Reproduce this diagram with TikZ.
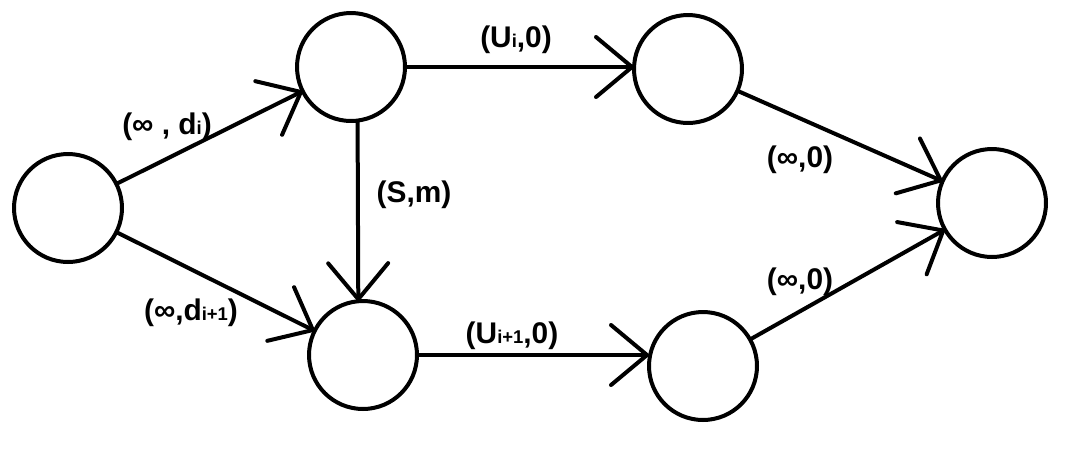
\documentclass[tikz,border=0pt]{standalone}
\usepackage{fontspec}
\setmainfont{Liberation Sans}
\usetikzlibrary{arrows.meta}
\newcommand{\lowidx}[1]{{\fontsize{10.5}{11}\selectfont #1}}
\tikzset{
  vtx/.style={draw,circle,line width=0.08cm,minimum size=2.16cm,inner sep=0pt,outer sep=0pt},
  flow/.style={line width=0.08cm,-{Straight Barb[length=0.72cm,width=1.2cm,round]}},
  lab/.style={font=\fontsize{17}{19}\selectfont\bfseries,inner sep=1pt}
}

\begin{document}
\begin{tikzpicture}[x=0.02cm,y=-0.02cm]
\useasboundingbox (0,0) rectangle (1071,454);
% vertices
\node[vtx] (src) at (68,208) {};
\node[vtx] (up) at (351,67) {};
\node[vtx] (low) at (363,355) {};
\node[vtx] (upr) at (688,69) {};
\node[vtx] (lowr) at (703,366) {};
\node[vtx] (snk) at (992,203) {};
% edges
\draw[flow] (src) -- (up);
\draw[flow] (src) -- (low);
\draw[flow] (up.-83) -- (low.95);
\draw[flow] (up.east) -- (up.east -| upr.west);
\draw[flow] (low.east) -- (low.east -| lowr.west);
\draw[flow] (upr) -- (snk);
\draw[flow] (lowr) -- (snk);
% capacities
\node[lab] (l1) at (167,127) {(∞ , d\lowidx{i})};
\node[lab] (l2) at (191,313) {(∞,d\lowidx{i+1})};
\node[lab] (l3) at (516,40) {(U\lowidx{i},0)};
\node[lab] (l4) at (414,195) {(S,m)};
\node[lab] (l5) at (512,336) {(U\lowidx{i+1},0)};
\node[lab] (l6) at (800,160) {(∞,0)};
\node[lab] (l7) at (800,282) {(∞,0)};
\end{tikzpicture}
\end{document}
